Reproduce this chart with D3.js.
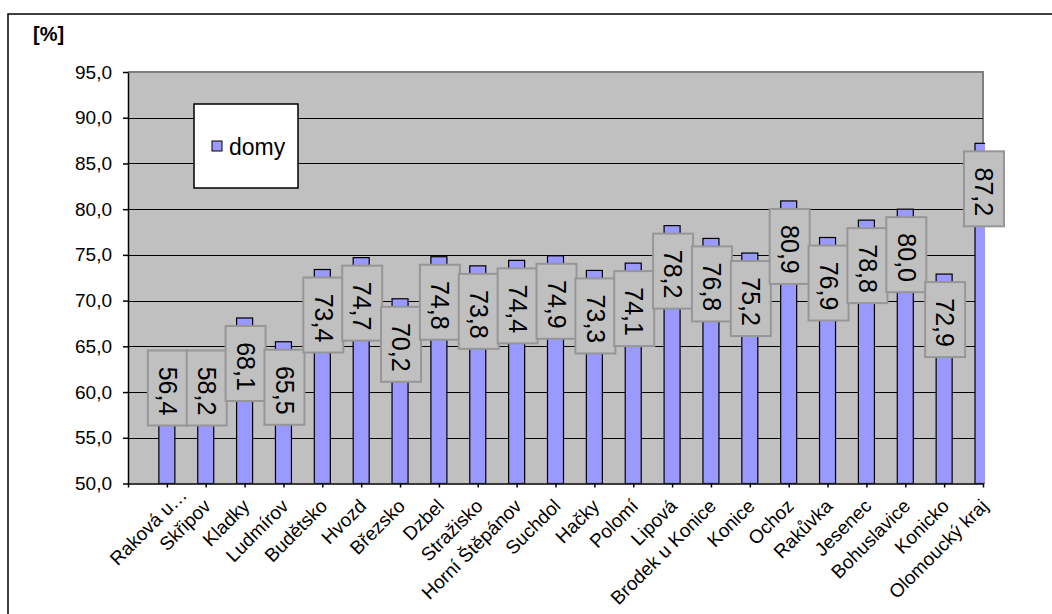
<!DOCTYPE html>
<html><head><meta charset="utf-8">
<script src="https://cdn.jsdelivr.net/npm/d3@7"></script>
<style>body{margin:0;background:#fff} svg{display:block} text{font-family:"Liberation Sans",Arial,sans-serif}</style>
</head><body><svg id="c" width="1052" height="614"></svg>
<script>
const categories = ["Raková u…","Skřipov","Kladky","Ludmírov","Budětsko","Hvozd","Březsko","Dzbel","Stražisko","Horní Štěpánov","Suchdol","Hačky","Polomí","Lipová","Brodek u Konice","Konice","Ochoz","Rakůvka","Jesenec","Bohuslavice","Konicko","Olomoucký kraj"];
const values = [56.4,58.2,68.1,65.5,73.4,74.7,70.2,74.8,73.8,74.4,74.9,73.3,74.1,78.2,76.8,75.2,80.9,76.9,78.8,80.0,72.9,87.2];
const seriesName = "domy";
const yTicks = [50,55,60,65,70,75,80,85,90,95];
const yTickLabels = ["50,0","55,0","60,0","65,0","70,0","75,0","80,0","85,0","90,0","95,0"];
const unitLabel = "[%]";

const svg = d3.select("#c");
const plot = {l:128, t:72, r:983, b:483.5};
const BAR_FILL = "#9999ff", PLOT_FILL = "#c0c0c0";

// outer chart border
svg.append("rect").attr("x",8).attr("y",14).attr("width",1100).attr("height",700)
  .attr("fill","#fff").attr("stroke","#000").attr("stroke-width",1.5);

const slots = ["__blank__", ...categories];
const x = d3.scalePoint().domain(slots).range([plot.l, plot.r]);
const y = d3.scaleLinear().domain([yTicks[0], yTicks[yTicks.length-1]]).range([plot.b, plot.t]);

// plot area
svg.append("rect").attr("x",plot.l).attr("y",plot.t).attr("width",plot.r-plot.l).attr("height",plot.b-plot.t)
  .attr("fill",PLOT_FILL);
svg.append("path").attr("d",`M${plot.l},${plot.t}H${plot.r}V${plot.b}`).attr("fill","none")
  .attr("stroke","#808080").attr("stroke-width",2);

// gridlines
svg.append("g").selectAll("line").data(yTicks.slice(1,-1)).join("line")
  .attr("x1",plot.l).attr("x2",plot.r).attr("y1",d=>Math.round(y(d))+0.5).attr("y2",d=>Math.round(y(d))+0.5)
  .attr("stroke","#000").attr("stroke-width",1.2);

// clip
svg.append("clipPath").attr("id","pc").append("rect")
  .attr("x",plot.l).attr("y",plot.t-10).attr("width",plot.r-plot.l+2).attr("height",plot.b-plot.t+10);

const bw = 16;
svg.append("g").attr("clip-path","url(#pc)").selectAll("rect").data(values).join("rect")
  .attr("x",(d,i)=>x(categories[i])-bw/2).attr("width",bw)
  .attr("y",d=>y(d)).attr("height",d=>plot.b-y(d))
  .attr("fill",BAR_FILL).attr("stroke","#000").attr("stroke-width",1.2);

// y axis
const yAxis = svg.append("g").attr("transform",`translate(${plot.l},0)`)
  .call(d3.axisLeft(y).tickValues(yTicks).tickFormat((d,i)=>yTickLabels[i]).tickSize(5).tickSizeOuter(0));
yAxis.select(".domain").attr("stroke","#000").attr("stroke-width",1.5);
yAxis.selectAll(".tick line").attr("stroke","#000").attr("stroke-width",1.5);
yAxis.selectAll(".tick text").attr("x",-16).attr("font-size",19).attr("fill","#000")
  .style("font-family",'"Liberation Sans",Arial,sans-serif');

// x axis
const xAxis = svg.append("g").attr("transform",`translate(0,${plot.b})`)
  .call(d3.axisBottom(x).tickFormat(d=>d==="__blank__"?"":d).tickSize(4).tickSizeOuter(0));
xAxis.select(".domain").attr("stroke","#000").attr("stroke-width",1.5);
xAxis.selectAll(".tick line").attr("stroke","#000").attr("stroke-width",1.5);
xAxis.selectAll(".tick text").attr("x",0).attr("y",0).attr("dy","0.35em").attr("text-anchor","end")
  .attr("font-size",19).attr("fill","#000").style("font-family",'"Liberation Sans",Arial,sans-serif')
  .attr("transform",(d,i)=> i===1 ? "translate(16,8) rotate(-45)" : "translate(1,19) rotate(-45)");

// data labels
const boxW = 40, boxH = 75;
const lab = svg.append("g").selectAll("g").data(values).join("g")
  .attr("transform",(d,i)=>{
    const top = Math.min(y(d)+8, plot.b-133);
    return `translate(${x(categories[i])+1},${top})`;
  });
lab.append("rect").attr("x",-boxW/2).attr("y",0).attr("width",boxW).attr("height",boxH)
  .attr("fill",PLOT_FILL).attr("stroke","#969696").attr("stroke-width",2);
lab.append("text").attr("transform",`translate(0,${boxH/2+3}) rotate(90)`)
  .attr("text-anchor","middle").attr("dy","0.35em").attr("font-size",25).attr("fill","#000")
  .text(d=>d.toFixed(1).replace(".",","));

// unit label
svg.append("text").attr("x",33).attr("y",41).attr("font-size",20).attr("font-weight","bold").text(unitLabel);

// legend
const lg = svg.append("g");
lg.append("rect").attr("x",194).attr("y",104).attr("width",104).attr("height",84)
  .attr("fill","#fff").attr("stroke","#000").attr("stroke-width",1.5);
lg.append("rect").attr("x",212).attr("y",141).attr("width",10).attr("height",10)
  .attr("fill",BAR_FILL).attr("stroke","#000").attr("stroke-width",1);
lg.append("text").attr("x",229).attr("y",155).attr("font-size",23).text(seriesName);
</script></body></html>
